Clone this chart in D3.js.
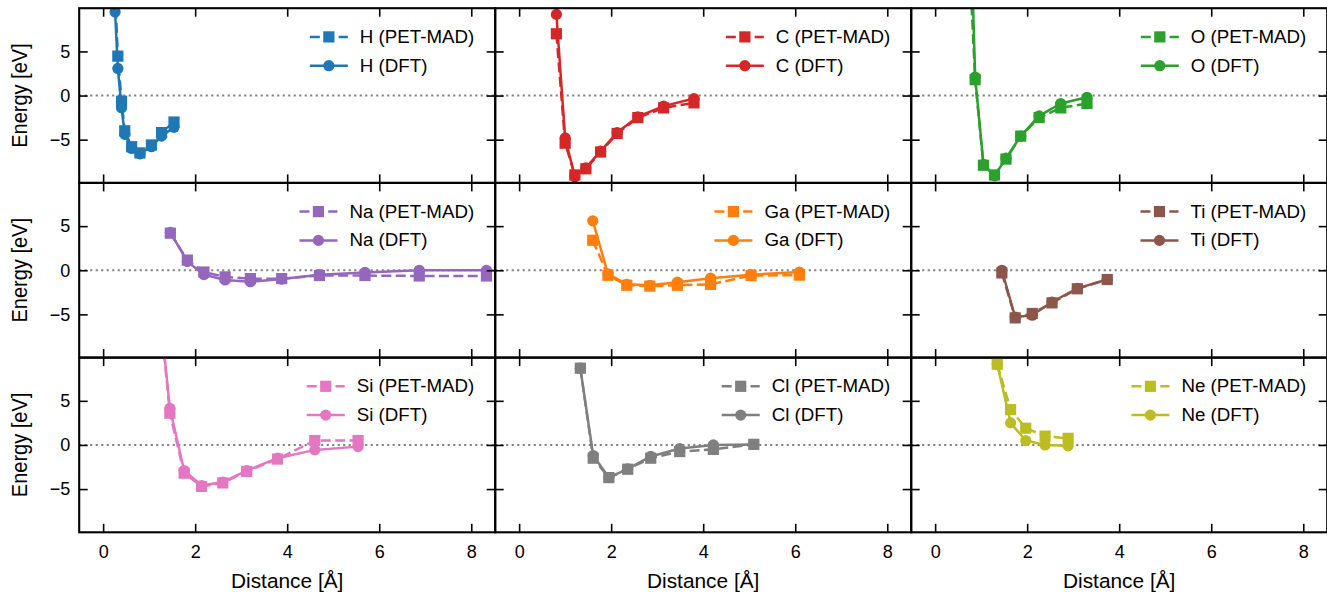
<!DOCTYPE html>
<html>
<head>
<meta charset="utf-8">
<script src="https://cdn.jsdelivr.net/npm/d3@7"></script>
<style>
  html, body { margin: 0; padding: 0; background: #fff; }
  svg { display: block; font-family: "Liberation Sans", Arial, sans-serif; }
</style>
</head>
<body>
<svg id="chart" width="1327" height="595"></svg>
<script>
// Dimer binding curves: PET-MAD vs DFT, one panel per element
const elements = ["H", "C", "O", "Na", "Ga", "Ti", "Si", "Cl", "Ne"];
const palette  = ["#1f77b4", "#d62728", "#2ca02c", "#9467bd", "#ff7f0e", "#8c564b", "#e377c2", "#7f7f7f", "#bcbd22"];

const xTicks = [0, 2, 4, 6, 8];
const yTicks = [-5, 0, 5];

// distances [Å] and energies [eV]
const distH  = [0.26, 0.32, 0.40, 0.47, 0.62, 0.80, 1.05, 1.27, 1.54];
const petH   = [11.5, 4.47, -0.65, -4.0, -5.8, -6.5, -5.6, -4.2, -3.0];
const dftH   = [9.47, 3.07, -1.4, -4.4, -6.0, -6.6, -5.8, -4.6, -3.6];

const distC  = [0.81, 1.00, 1.21, 1.45, 1.77, 2.13, 2.58, 3.14, 3.80];
const petC   = [7.0, -5.4, -9.0, -8.3, -6.4, -4.3, -2.5, -1.4, -0.83];
const dftC   = [9.2, -4.8, -9.2, -8.2, -6.3, -4.2, -2.4, -1.2, -0.34];

const distO  = [0.70, 0.87, 1.05, 1.29, 1.54, 1.86, 2.26, 2.73, 3.30];
const petO   = [20.0, 1.8, -7.9, -9.0, -7.2, -4.6, -2.5, -1.4, -0.9];
const dftO   = [32.0, 2.1, -7.8, -9.1, -7.1, -4.6, -2.3, -0.9, -0.2];

const distNa = [1.46, 1.83, 2.19, 2.65, 3.20, 3.88, 4.70, 5.69, 6.87, 8.33];
const petNa  = [4.2, 1.15, -0.2, -0.75, -0.95, -0.95, -0.6, -0.6, -0.65, -0.65];
const dftNa  = [4.3, 1.0, -0.5, -1.1, -1.3, -1.0, -0.5, -0.25, 0.0, 0.0];

const distGa = [1.60, 1.93, 2.34, 2.84, 3.44, 4.16, 5.04, 6.09];
const petGa  = [3.4, -0.57, -1.7, -1.8, -1.7, -1.6, -0.6, -0.55];
const dftGa  = [5.6, -0.4, -1.6, -1.7, -1.35, -0.9, -0.5, -0.2];

const distTi = [1.45, 1.74, 2.11, 2.54, 3.09, 3.74];
const petTi  = [-0.3, -5.4, -4.9, -3.7, -2.1, -1.05];
const dftTi  = [0.0, -5.3, -5.1, -3.6, -2.05, -1.05];

const distSi = [1.20, 1.45, 1.76, 2.14, 2.60, 3.12, 3.79, 4.60, 5.54];
const petSi  = [17.0, 3.6, -3.2, -4.7, -4.3, -3.0, -1.6, 0.5, 0.5];
const dftSi  = [17.0, 4.15, -2.9, -4.6, -4.2, -2.9, -1.5, -0.56, -0.19];

const distCl = [1.33, 1.61, 1.95, 2.36, 2.86, 3.49, 4.22, 5.10];
const petCl  = [8.7, -1.5, -3.7, -2.75, -1.5, -0.75, -0.5, 0.07];
const dftCl  = [8.7, -1.2, -3.7, -2.7, -1.3, -0.4, 0.0, 0.05];

const distNe = [1.35, 1.64, 1.97, 2.39, 2.89];
const petNe  = [9.15, 4.0, 1.9, 1.0, 0.75];
const dftNe  = [9.15, 2.5, 0.5, 0.0, -0.1];

const distances = [distH, distC, distO, distNa, distGa, distTi, distSi, distCl, distNe];
const petSeries = [petH, petC, petO, petNa, petGa, petTi, petSi, petCl, petNe];
const dftSeries = [dftH, dftC, dftO, dftNa, dftGa, dftTi, dftSi, dftCl, dftNe];

// layout
const colLefts = [79.2, 495.2, 911.2];
const rowTops  = [8.2, 182.9, 357.6];
const panelW = 416, panelH = 174.7;
const textStretch = 1.07;

const svg = d3.select("#chart");

const x = d3.scaleLinear().domain([-0.52, 8.52]).range([0, panelW]);
const y = d3.scaleLinear().domain([-9.9, 9.9]).range([panelH, 0]);

const line = d3.line().x(d => x(d[0])).y(d => y(d[1]));

const lineW = 2.5, markerS = 11.2, tickLen = 8.5;

function stretchedText(parent, tx, ty, str, size, anchor, rotate) {
  return parent.append("text")
    .attr("transform", `translate(${tx},${ty}) scale(${textStretch},1)` + (rotate ? ` rotate(${rotate})` : ""))
    .attr("font-size", size)
    .attr("text-anchor", anchor || "start")
    .attr("fill", "#000")
    .text(str);
}

elements.forEach((el, i) => {
  const r = Math.floor(i / 3), c = i % 3;
  const color = palette[i];
  const g = svg.append("g").attr("transform", `translate(${colLefts[c]},${rowTops[r]})`);

  const clipId = "clip" + i;
  g.append("clipPath").attr("id", clipId)
    .append("rect").attr("x", 0).attr("y", 0).attr("width", panelW).attr("height", panelH);

  const plot = g.append("g").attr("clip-path", `url(#${clipId})`);

  // zero reference
  plot.append("line")
    .attr("x1", 0).attr("x2", panelW)
    .attr("y1", y(0)).attr("y2", y(0))
    .attr("stroke", "#808080").attr("stroke-width", 2.1)
    .attr("stroke-dasharray", "2.1,3.4");

  const dftPts = distances[i].map((d, k) => [d, dftSeries[i][k]]);
  const petPts = distances[i].map((d, k) => [d, petSeries[i][k]]);

  // DFT reference: solid line with circles
  plot.append("path").datum(dftPts)
    .attr("d", line).attr("fill", "none")
    .attr("stroke", color).attr("stroke-width", lineW)
    .attr("stroke-linejoin", "round");
  plot.selectAll(".dft").data(dftPts).join("circle")
    .attr("class", "dft")
    .attr("cx", d => x(d[0])).attr("cy", d => y(d[1]))
    .attr("r", markerS / 2).attr("fill", color);

  // PET-MAD prediction: dashed line with squares
  plot.append("path").datum(petPts)
    .attr("d", line).attr("fill", "none")
    .attr("stroke", color).attr("stroke-width", lineW)
    .attr("stroke-dasharray", "10,4.4");
  plot.selectAll(".pet").data(petPts).join("rect")
    .attr("class", "pet")
    .attr("x", d => x(d[0]) - markerS / 2).attr("y", d => y(d[1]) - markerS / 2)
    .attr("width", markerS).attr("height", markerS).attr("fill", color);

  // ticks on all four sides, pointing inward
  const axB = d3.axisBottom(x).tickValues(xTicks).tickSizeInner(-tickLen).tickSizeOuter(0).tickPadding(12.5);
  if (r !== 2) axB.tickFormat("");
  const axT = d3.axisTop(x).tickValues(xTicks).tickSizeInner(-tickLen).tickSizeOuter(0).tickFormat("");
  const axL = d3.axisLeft(y).tickValues(yTicks).tickSizeInner(-tickLen).tickSizeOuter(0).tickPadding(9)
    .tickFormat(d => d < 0 ? "\u2212" + Math.abs(d) : String(d));
  if (c !== 0) axL.tickFormat("");
  const axR = d3.axisRight(y).tickValues(yTicks).tickSizeInner(-tickLen).tickSizeOuter(0).tickFormat("");

  const axes = [
    g.append("g").attr("transform", `translate(0,${panelH})`).call(axB),
    g.append("g").call(axT),
    g.append("g").call(axL),
    g.append("g").attr("transform", `translate(${panelW},0)`).call(axR)
  ];
  axes.forEach(a => {
    a.select(".domain").remove();
    a.selectAll(".tick line").attr("stroke", "#000").attr("stroke-width", 1.6);
    a.selectAll(".tick text")
      .attr("font-size", 18)
      .attr("font-family", "'Liberation Sans', Arial, sans-serif")
      .attr("fill", "#000");
  });

  // frame
  g.append("rect").attr("x", 0).attr("y", 0).attr("width", panelW).attr("height", panelH)
    .attr("fill", "none").attr("stroke", "#000").attr("stroke-width", 2.1);

  // legend
  const labels = [el + " (PET-MAD)", el + " (DFT)"];
  const lg = g.append("g");
  const rowsY = [28.7, 57.5];
  const texts = labels.map((lab, k) => stretchedText(lg, 0, rowsY[k] + 6, lab, 17.5, "start"));
  const maxW = d3.max(texts, t => t.node().getComputedTextLength() * textStretch);
  const textX = panelW - 21 - maxW;
  texts.forEach((t, k) => t.attr("transform", `translate(${textX},${rowsY[k] + 6}) scale(${textStretch},1)`));
  const hEnd = textX - 12, hStart = hEnd - 38, hMid = (hStart + hEnd) / 2;

  // PET-MAD handle
  lg.append("line").attr("x1", hStart).attr("x2", hEnd).attr("y1", rowsY[0]).attr("y2", rowsY[0])
    .attr("stroke", color).attr("stroke-width", lineW).attr("stroke-dasharray", "10,4.4");
  lg.append("rect").attr("x", hMid - markerS / 2).attr("y", rowsY[0] - markerS / 2)
    .attr("width", markerS).attr("height", markerS).attr("fill", color);
  // DFT handle
  lg.append("line").attr("x1", hStart).attr("x2", hEnd).attr("y1", rowsY[1]).attr("y2", rowsY[1])
    .attr("stroke", color).attr("stroke-width", lineW);
  lg.append("circle").attr("cx", hMid).attr("cy", rowsY[1]).attr("r", markerS / 2).attr("fill", color);

  // axis titles
  if (c === 0) {
    stretchedText(svg, 27, rowTops[r] + panelH / 2, "Energy [eV]", 20, "middle", -90);
  }
  if (r === 2) {
    stretchedText(svg, colLefts[c] + panelW / 2, 588, "Distance [Å]", 19.5, "middle");
  }
});
</script>
</body>
</html>
